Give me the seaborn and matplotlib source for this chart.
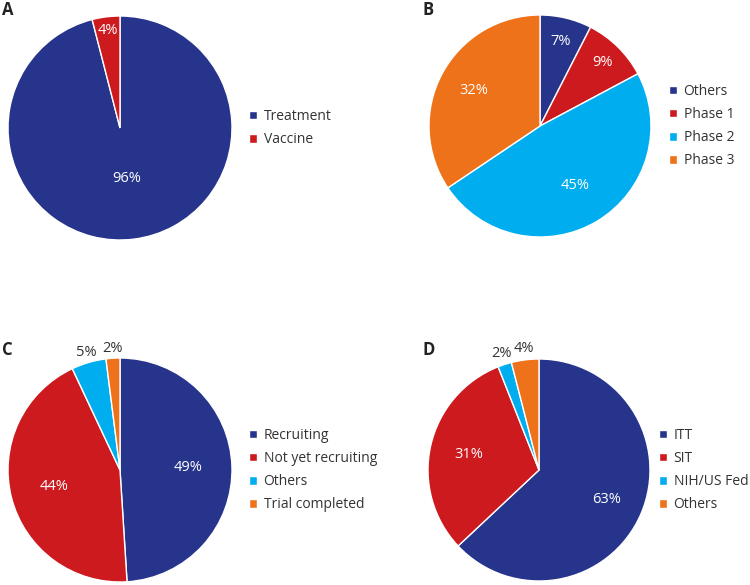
import matplotlib
matplotlib.use("Agg")
import matplotlib.pyplot as plt
import seaborn as sns
import numpy as np

# A: study type
type_labels = ["Treatment", "Vaccine"]
type_values = [96, 4]

# B: trial phase
phase_labels = ["Others", "Phase 1", "Phase 2", "Phase 3"]
phase_values = [7, 9, 45, 32]

# C: recruitment status
status_labels = ["Recruiting", "Not yet recruiting", "Others", "Trial completed"]
status_values = [49, 44, 5, 2]

# D: sponsor
sponsor_labels = ["ITT", "SIT", "NIH/US Fed", "Others"]
sponsor_values = [63, 31, 2, 4]

sns.set_theme(style="white")
plt.rcParams['font.family'] = ['Open Sans', 'DejaVu Sans']
colors = ["#27348b", "#cc1a1f", "#00aeef", "#ee7219"]

W, H = 750, 585
fig = plt.figure(figsize=(7.5, 5.85), dpi=100)


def draw_pie(cx, cy, r, values, labels, dists, letter, letter_xy, leg_x):
    ax = fig.add_axes([(cx - r) / W, (H - cy - r) / H, 2 * r / W, 2 * r / H])
    wedges, _ = ax.pie(values, colors=colors[:len(values)], startangle=90, counterclock=False,
                       wedgeprops=dict(edgecolor="white", linewidth=1))
    ax.set_xlim(-1, 1)
    ax.set_ylim(-1, 1)
    for w, v, d in zip(wedges, values, dists):
        ang = np.deg2rad((w.theta1 + w.theta2) / 2)
        col = "white" if d < 1 else "#333333"
        ax.text(d * np.cos(ang), d * np.sin(ang), f"{v}%", ha="center", va="center",
                color=col, fontsize=10.5)
    ax.legend(wedges, labels, loc="center left", bbox_to_anchor=(leg_x / W, 1 - cy / H),
              bbox_transform=fig.transFigure, frameon=False, fontsize=10, borderpad=0,
              borderaxespad=0, handlelength=0.6, handleheight=0.6, handletextpad=0.45,
              labelspacing=0.58, labelcolor="#333333")
    fig.text(letter_xy[0] / W, 1 - letter_xy[1] / H, letter, fontweight="bold", fontsize=12,
             ha="left", va="top", color="#222222")


draw_pie(120, 128, 112, type_values, type_labels, [0.45, 0.88], "A", (2, 1), 249)
draw_pie(540, 126, 111, phase_values, phase_labels, [0.78, 0.8, 0.62, 0.68], "B", (422, 1), 669)
draw_pie(120, 470, 112, status_values, status_labels, [0.61, 0.61, 1.09, 1.09], "C", (2, 341), 249)
draw_pie(539, 470, 111, sponsor_values, sponsor_labels, [0.66, 0.65, 1.1, 1.1], "D", (422, 341), 659)

fig.savefig("out.png", dpi=100)
